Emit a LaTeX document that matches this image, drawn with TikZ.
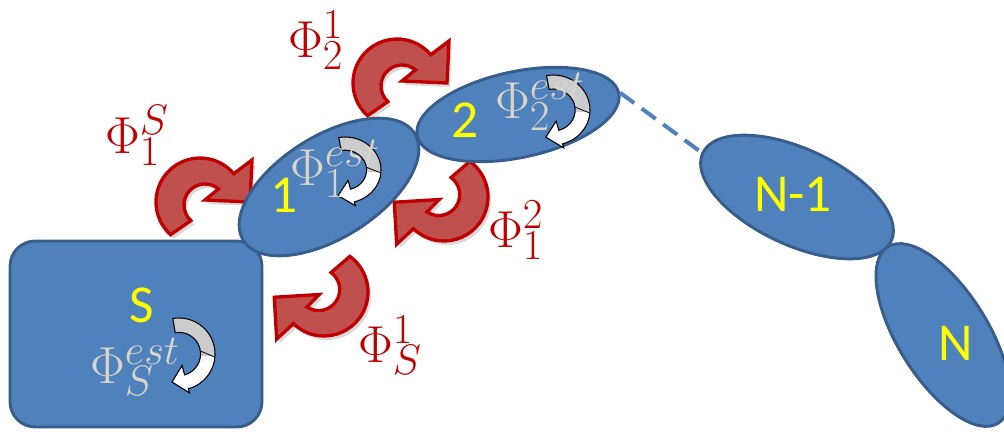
\RequirePackage{fix-cm}
\documentclass[tikz,border=0pt]{standalone}
\usepackage{fontspec}
\newfontfamily\carlito{Carlito}
\usetikzlibrary{shapes.geometric}
\DeclareMathSizes{39}{39}{32}{24}
\definecolor{bfill}{HTML}{4F81BD}
\definecolor{bline}{HTML}{385D8A}
\definecolor{rfill}{HTML}{C0504D}
\definecolor{rline}{HTML}{C00000}
\definecolor{glabel}{RGB}{217,213,200}
\definecolor{ylab}{HTML}{FFFF00}
\tikzset{
 blob/.style={ellipse, fill=bfill, draw=bline, line width=2.2pt, inner sep=0pt},
 ylabel/.style={text=ylab, font=\carlito\fontsize{40}{40}\selectfont, inner sep=0pt},
 rlabel/.style={text=rline, font=\fontsize{39}{40}\selectfont, inner sep=0pt, anchor=base west},
 glab/.style={text=glabel, font=\fontsize{39}{40}\selectfont, inner sep=0pt, anchor=base west},
 redshape/.style={insert path={(228:44) arc[start angle=228,end angle=40,radius=44] -- (52,42) -- (50,0) -- (5,2) -- (18.5,13.1) arc[start angle=50,end angle=228,radius=21] -- cycle}},
 redarrow/.pic={
   \fill[black, opacity=0.15, shift={(3,-4)}, rotate=#1, redshape];
   \filldraw[fill=rfill, draw=rline, line width=2.5pt, line join=miter, rotate=#1, redshape];
 },
 grayshape/.style={insert path={(100:1) arc[start angle=100,end angle=-75,radius=1] -- (-75:1.12) -- (-104:0.8) -- (-75:0.33) -- (-75:0.6) arc[start angle=-75,end angle=100,radius=0.6] -- cycle}},
 grayarrow/.pic={
   \begin{scope}
     \clip[grayshape];
     \fill[gray!40] (-1.5,-0.05) rectangle (1.5,1.5);
     \fill[white] (-1.5,-0.05) rectangle (1.5,-1.5);
   \end{scope}
   \draw[black, line width=0.8pt, line join=miter, grayshape];
   \draw[black, line width=0.6pt] (8:0.6) -- (-5:1);
 }
}
\begin{document}
\begin{tikzpicture}[x=0.75pt,y=0.75pt]
\useasboundingbox (0,0) rectangle (1004,-432);
% base box
\node[draw=bline, fill=bfill, line width=2.2pt, rounded corners=19pt, minimum width=189pt, minimum height=139.5pt] (S) at (136,-334) {};
% red exchange arrows (behind ellipses)
\pic at (200,-202) {redarrow=0};
\pic at (397,-83) {redarrow=0};
\pic at (444,-197) {redarrow=186};
\pic at (324,-292) {redarrow=186};
% ellipses
\node[blob, rotate=32, minimum width=151.5pt, minimum height=76.5pt] (e1) at (329,-187) {};
\node[blob, rotate=12, minimum width=154.5pt, minimum height=64.5pt] (e2) at (518,-114.5) {};
\node[blob, rotate=-25, minimum width=156pt, minimum height=72pt] (eN1) at (797,-197) {};
\node[blob, rotate=-58, minimum width=156pt, minimum height=67.5pt] (eN) at (943,-335) {};
\draw[bfill, line width=3pt, dash pattern=on 13pt off 7pt] (e2.east) -- (eN1.west);
% rotation arrows
\pic[xscale=36, yscale=36] at (179,-354) {grayarrow};
\pic[xscale=36, yscale=33] at (345,-170) {grayarrow};
\pic[xscale=37, yscale=35] at (553,-110) {grayarrow};
% yellow labels
\node[ylabel] (tS) at (142,-305) {S};
\node[ylabel] (t1) at (284,-195) {1};
\node[ylabel] (t2) at (465,-120) {2};
\node[ylabel] (tN1) at (793,-194) {N-1};
\node[ylabel] (tN) at (956,-343) {N};
% red labels
\node[rlabel] (p12) at (288,-57) {$\Phi_2^1$};
\node[rlabel] (pS1) at (105,-153) {$\Phi_1^S$};
\node[rlabel] (p21) at (488,-247) {$\Phi_1^2$};
\node[rlabel] (p1S) at (358,-362) {$\Phi_S^1$};
% gray labels
\node[glab] (gS) at (90,-383) {$\Phi_S^{est}$};
\node[glab] (g1) at (290,-185) {$\Phi_1^{est}$};
\node[glab] (g2) at (495,-118) {$\Phi_2^{est}$};
\end{tikzpicture}
\end{document}
